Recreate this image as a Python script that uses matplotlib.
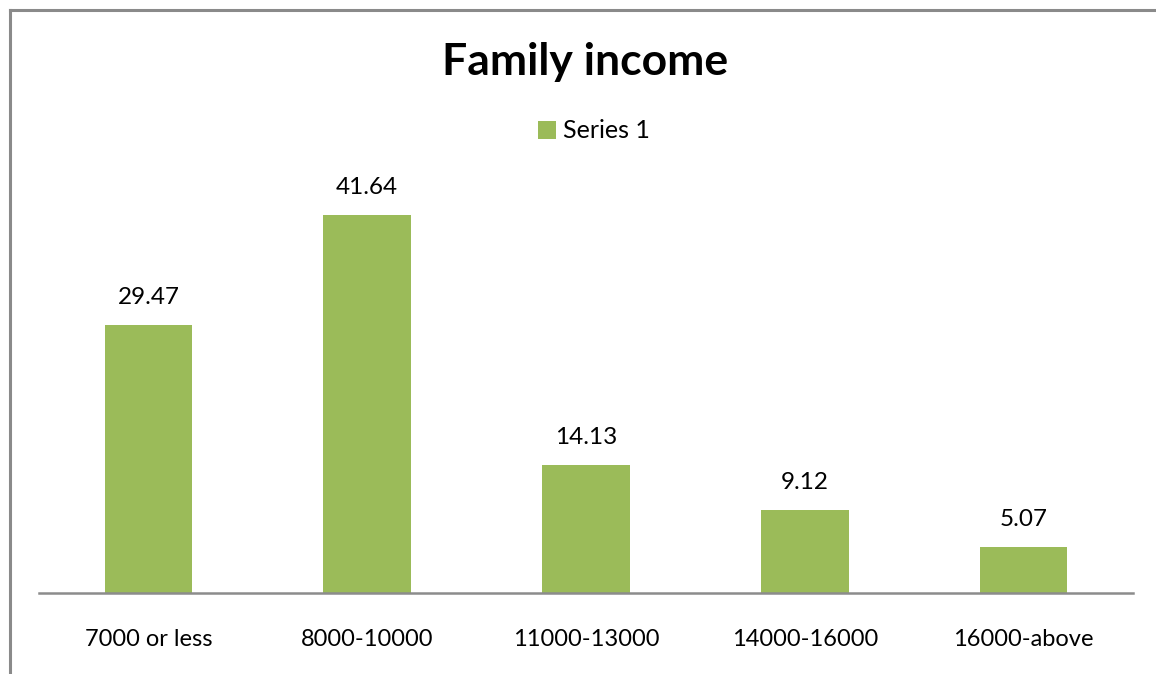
import matplotlib
matplotlib.use("Agg")
import matplotlib.pyplot as plt
from matplotlib.lines import Line2D
from matplotlib.patches import Patch

categories = ["7000 or less", "8000-10000", "11000-13000", "14000-16000", "16000-above"]
values = [29.47, 41.64, 14.13, 9.12, 5.07]
series_name = "Series 1"
title = "Family income"

plt.rcParams['font.family'] = ['Lato', 'DejaVu Sans']

W, H = 1156, 674
fig = plt.figure(figsize=(W / 100, H / 100), dpi=100)
ax = fig.add_axes([39 / W, 1 - 593 / H, (1133 - 39) / W, (593 - 184) / H])

color = "#9BBB59"
x = list(range(len(categories)))
bars = ax.bar(x, values, width=0.4, color=color, zorder=2)
ax.set_xlim(-0.5, len(categories) - 0.5)
ax.set_ylim(0, 45)
ax.set_yticks([])
ax.set_xticks(x)
ax.set_xticklabels(categories, fontsize=17, color="#000000")
ax.tick_params(axis='x', length=0, pad=26)
for s in ["top", "right", "left"]:
    ax.spines[s].set_visible(False)
ax.spines["bottom"].set_color("#8c8c8c")
ax.spines["bottom"].set_linewidth(1.8)

for xi, v in zip(x, values):
    ax.annotate(f"{v:.2f}", (xi, v), xytext=(0, 17), textcoords="offset pixels",
                ha="center", va="bottom", fontsize=17.5, color="#000000")

fig.text(585 / W, 1 - 62 / H, title, ha="center", va="center", fontsize=32, fontweight="bold")

leg = fig.legend(handles=[Patch(facecolor=color, label=series_name)],
                 loc="center", bbox_to_anchor=(594 / W, 1 - 131 / H), frameon=False,
                 fontsize=18, handlelength=0.7, handleheight=0.7, handletextpad=0.3)

fig.add_artist(Line2D([10 / W, 10 / W], [0, 1 - 10 / H], color="#8a8a8a", lw=2.2, transform=fig.transFigure))
fig.add_artist(Line2D([10 / W, 1], [1 - 10 / H, 1 - 10 / H], color="#8a8a8a", lw=2.2, transform=fig.transFigure))

fig.savefig("out.png", dpi=100)
